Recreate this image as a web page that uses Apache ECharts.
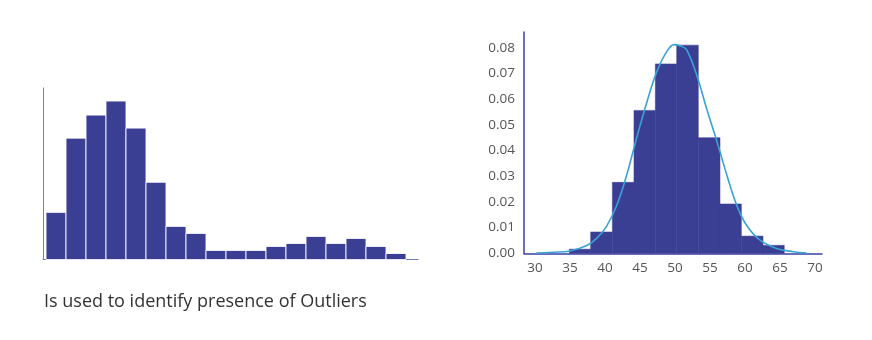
<!DOCTYPE html>
<html>
<head>
<meta charset="utf-8">
<script src="https://cdn.jsdelivr.net/npm/echarts@6/dist/echarts.min.js"></script>
<style>html,body{margin:0;padding:0;background:#fff}#c{width:872px;height:340px}</style>
</head>
<body>
<div id="c"></div>
<script>
// Left histogram (skewed with outliers) - bar heights (relative counts)
const leftCounts = [47, 121, 144, 158, 131, 77, 33, 26, 9, 9, 9, 13, 16, 23, 16, 21, 13, 6];
// Right histogram - bin edges and densities
const binEdges = [34.9, 37.95, 41.05, 44.14, 47.19, 50.24, 53.33, 56.43, 59.48, 62.57, 65.61];
const binDensity = [0.0016, 0.0083, 0.0276, 0.0556, 0.0737, 0.081, 0.045, 0.0192, 0.0067, 0.0031];
// Density curve points
const curveX = [30.2, 32.6, 35.0, 37.4, 38.8, 40.2, 41.7, 43.1, 44.5, 46.0, 47.4, 48.8, 49.9, 51.0, 51.7, 53.1, 54.5, 56.0, 57.4, 58.8, 60.2, 62.1, 64.5, 66.9, 68.8];
const curveY = [0.0001, 0.0004, 0.0009, 0.003, 0.0058, 0.0104, 0.0188, 0.0305, 0.0447, 0.059, 0.0707, 0.0784, 0.0812, 0.0805, 0.0791, 0.0694, 0.0564, 0.0434, 0.0305, 0.0188, 0.011, 0.0052, 0.0019, 0.0006, 0.0001];
const xTicks = [30, 35, 40, 45, 50, 55, 60, 65, 70];
const yTicks = [0, 0.01, 0.02, 0.03, 0.04, 0.05, 0.06, 0.07, 0.08];
const caption = 'Is used to identify presence of Outliers';

const barColor = '#3b3f93';
const leftData = leftCounts.map((v, i) => [i, i + 1, v]);
const rightData = binDensity.map((v, i) => [binEdges[i], binEdges[i + 1], v]);
const curveData = curveX.map((x, i) => [x, curveY[i]]);

function rectItem(stroke, lw) {
  return function (params, api) {
    const s = api.coord([api.value(0), api.value(2)]);
    const e = api.coord([api.value(1), 0]);
    return {
      type: 'rect',
      shape: { x: s[0], y: s[1], width: e[0] - s[0], height: e[1] - s[1] },
      style: { fill: barColor, stroke: stroke, lineWidth: lw }
    };
  };
}

const chart = echarts.init(document.getElementById('c'), null, { renderer: 'canvas' });
const fontFamily = 'Open Sans, sans-serif';
const hiddenAxis = (grid, color, w) => ({ gridIndex: grid, type: 'value', min: 0, max: 1, axisLine: { show: true, onZero: false, lineStyle: { color: color, width: w } }, axisTick: { show: false }, axisLabel: { show: false }, splitLine: { show: false } });
chart.setOption({
  animation: false,
  backgroundColor: '#fff',
  grid: [
    { left: 43, right: 454, top: 88, bottom: 80.5 },
    { left: 524, right: 50, top: 32, bottom: 86.7 },
    { left: 535, right: 57, top: 47.7, bottom: 86.7 }
  ],
  xAxis: [
    hiddenAxis(0, '#7579b8', 1),
    hiddenAxis(1, '#3a3fa6', 1.5),
    { gridIndex: 2, type: 'value', min: xTicks[0], max: xTicks[xTicks.length - 1], interval: 5, axisLine: { show: false }, axisTick: { show: false }, splitLine: { show: false },
      axisLabel: { color: '#555', fontSize: 13.5, fontFamily: fontFamily, margin: 8 } },
    { gridIndex: 0, type: 'value', min: -0.15, max: 18.6, show: false }
  ],
  yAxis: [
    hiddenAxis(0, '#7579b8', 1),
    hiddenAxis(1, '#3a3fa6', 1.5),
    { gridIndex: 2, type: 'value', min: yTicks[0], max: yTicks[yTicks.length - 1], interval: 0.01, axisLine: { show: false }, axisTick: { show: false }, splitLine: { show: false },
      axisLabel: { color: '#555', fontSize: 13.5, fontFamily: fontFamily, margin: 20, formatter: v => v.toFixed(2) } },
    { gridIndex: 0, type: 'value', min: 0, max: 171, show: false }
  ],
  series: [
    { type: 'custom', xAxisIndex: 3, yAxisIndex: 3, data: leftData, renderItem: rectItem('rgba(255,255,255,0.85)', 1), encode: { x: [0, 1], y: 2 } },
    { type: 'custom', xAxisIndex: 2, yAxisIndex: 2, data: rightData, renderItem: rectItem(barColor, 0.5), encode: { x: [0, 1], y: 2 }, clip: false },
    { type: 'line', xAxisIndex: 2, yAxisIndex: 2, data: curveData, smooth: 0.4, showSymbol: false, clip: false, lineStyle: { color: '#3aa3d6', width: 1.6 }, z: 5 }
  ],
  graphic: [
    { type: 'text', left: 44, top: 293, style: { text: caption, fontSize: 18, fontFamily: fontFamily, fill: '#333' } }
  ]
});
</script>
</body>
</html>
